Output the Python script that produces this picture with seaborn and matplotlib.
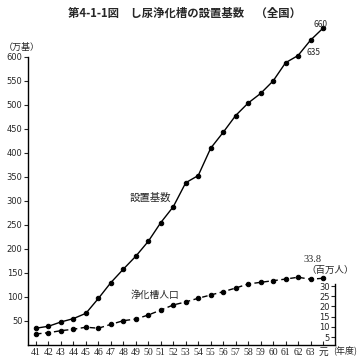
import numpy as np
import pandas as pd
import matplotlib
matplotlib.use("Agg")
import matplotlib.pyplot as plt
import seaborn as sns

# 年度 (昭和41 ... 63, 平成元)
years = list(range(41, 65))
year_labels = [str(y) for y in range(41, 64)] + ["元"]

# 設置基数 (万基)
units = [35, 39, 48, 55, 66, 97, 130, 158, 185, 216, 255, 288,
         338, 353, 410, 443, 478, 504, 524, 550, 588, 603, 635, 660]

# 浄化槽人口 (百万人)
population = [6.5, 7.1, 8.1, 8.8, 9.8, 9.3, 11.2, 13.0, 13.8, 15.8, 18.2, 20.7,
              22.2, 24.0, 25.6, 27.2, 29.0, 31.0, 31.8, 32.6, 33.4, 34.3, 33.3, 33.8]

left_ticks = list(range(50, 601, 50))
right_ticks = [5, 10, 15, 20, 25, 30]

sns.set_style("white")
plt.rcParams["font.family"] = ["Noto Sans CJK JP", "DejaVu Sans"]

df = pd.DataFrame({"year": years, "units": units, "population": population})

fig = plt.figure(figsize=(3.59, 3.61), dpi=100)
ax = fig.add_axes([28 / 359, 1 - 345 / 361, (335 - 28) / 359, (345 - 20) / 361])
ax2 = ax.twinx()

sns.lineplot(data=df, x="year", y="units", ax=ax, color="black", lw=1.0,
             marker="o", markersize=3.2, markeredgecolor="black")
sns.lineplot(data=df, x="year", y="population", ax=ax2, color="black", lw=1.0,
             marker="o", markersize=3.2, markeredgecolor="black", dashes=False,
             linestyle=(0, (4, 2.5)))

ax.set_xlim(40.36, 64.96)
ax.set_ylim(0, 677)
ax2.set_ylim(1.08, 160.4)

for a in (ax, ax2):
    a.set_xlabel("")
    a.set_ylabel("")
    for s in a.spines.values():
        s.set_visible(False)

# left axis
ax.spines["left"].set_visible(True)
ax.spines["left"].set_bounds(0, 600)
ax.spines["bottom"].set_visible(True)
for s in ("left", "bottom"):
    ax.spines[s].set_color("black")
    ax.spines[s].set_linewidth(1.0)
ax.set_yticks(left_ticks)
ax.set_yticklabels([str(t) for t in left_ticks], fontsize=6, family="DejaVu Sans")
ax.tick_params(axis="y", direction="out", length=3, width=0.8, pad=1, left=True)
ax.set_xticks(years)
ax.set_xticklabels(year_labels, fontsize=7, family=["Liberation Serif", "Noto Sans CJK JP"])
ax.tick_params(axis="x", direction="in", length=3, width=0.8, pad=2, bottom=True)

# right axis (spine placed on right edge, labels on its left)
ax2.spines["left"].set_visible(True)
ax2.spines["left"].set_position(("axes", 1.0))
ax2.spines["left"].set_bounds(1.08, 31)
ax2.spines["left"].set_color("black")
ax2.spines["left"].set_linewidth(1.0)
ax2.yaxis.tick_left()
ax2.set_yticks(right_ticks)
ax2.set_yticklabels([str(t) for t in right_ticks], fontsize=6, family="DejaVu Sans")
ax2.tick_params(axis="y", direction="out", length=3, width=0.8, pad=1)

# labels
fig.text(185 / 359, 1 - 13 / 361, "第4-1-1図　し尿浄化槽の設置基数　（全国）",
         ha="center", va="center", fontsize=8.2, fontweight="bold")
fig.text(22 / 359, 1 - 47 / 361, "（万基）", ha="center", va="center", fontsize=6.5)
fig.text(345 / 359, 1 - 350 / 361, "(年度)", ha="center", va="center", fontsize=6.5)
ax.text(50.2, 306, "設置基数", ha="center", va="center", fontsize=7.5)
ax.text(50.5, 104, "浄化槽人口", ha="center", va="center", fontsize=7)
ax.text(63.8, 667, "660", ha="center", va="center", fontsize=6)
ax.text(63.2, 610, "635", ha="center", va="center", fontsize=6)
fig.text(312 / 359, 1 - 259 / 361, "33.8", ha="center", va="center", fontsize=7.5,
         family="Liberation Serif")
fig.text(330 / 359, 1 - 270 / 361, "（百万人）", ha="center", va="center", fontsize=6.8)

fig.savefig("out.png", dpi=100)
